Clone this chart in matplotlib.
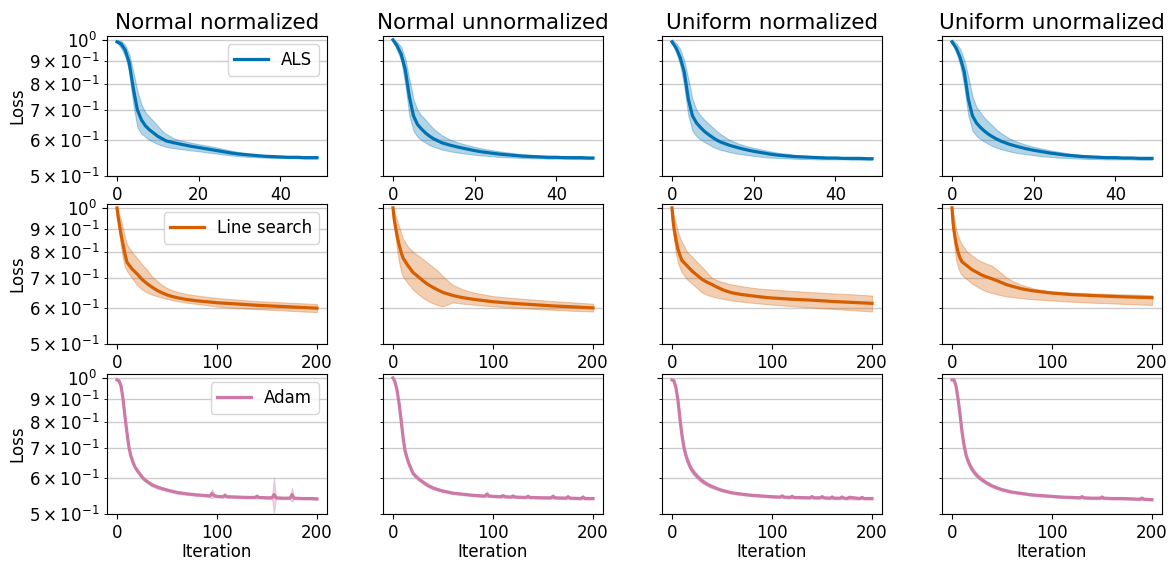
import matplotlib
matplotlib.use("Agg")
import matplotlib.pyplot as plt

TITLES = ["Normal normalized", "Normal unnormalized", "Uniform normalized", "Uniform unormalized"]
METHODS = ["ALS", "Line search", "Adam"]
COLORS = ["#0072B2", "#D55E00", "#CC79A7"]

# ---------------- ALS (iterations 0..49) ----------------
ALS_X = [0, 1, 2, 3, 4, 5, 6, 7, 8, 9, 10, 11, 12, 14, 16, 18, 20, 22, 24, 26, 28, 30,
         32, 34, 36, 38, 40, 42, 44, 46, 48, 49]

ALS_MEAN_1 = [0.99, 0.98, 0.95, 0.89, 0.78, 0.70, 0.665, 0.645, 0.632, 0.622, 0.612, 0.605, 0.598,
              0.592, 0.587, 0.582, 0.578, 0.574, 0.570, 0.566, 0.562, 0.559, 0.557, 0.555, 0.553,
              0.552, 0.551, 0.550, 0.550, 0.549, 0.549, 0.549]
ALS_HI_1 = [1.0, 0.995, 0.975, 0.93, 0.85, 0.77, 0.72, 0.69, 0.675, 0.66, 0.645, 0.63, 0.62,
            0.605, 0.598, 0.593, 0.588, 0.584, 0.579, 0.574, 0.569, 0.565, 0.561, 0.558, 0.556,
            0.555, 0.554, 0.553, 0.553, 0.552, 0.552, 0.552]
ALS_LO_1 = [0.985, 0.96, 0.92, 0.85, 0.72, 0.64, 0.62, 0.61, 0.60, 0.594, 0.588, 0.584, 0.58,
            0.576, 0.573, 0.57, 0.567, 0.564, 0.561, 0.558, 0.555, 0.553, 0.551, 0.550, 0.549,
            0.548, 0.548, 0.547, 0.547, 0.546, 0.546, 0.546]

ALS_MEAN_2 = [1.0, 0.97, 0.93, 0.86, 0.75, 0.68, 0.65, 0.635, 0.622, 0.612, 0.604, 0.598, 0.592,
              0.585, 0.579, 0.574, 0.569, 0.565, 0.562, 0.559, 0.557, 0.555, 0.553, 0.552, 0.551,
              0.550, 0.550, 0.549, 0.549, 0.549, 0.548, 0.548]
ALS_HI_2 = [1.0, 0.99, 0.965, 0.91, 0.82, 0.74, 0.70, 0.68, 0.665, 0.65, 0.635, 0.625, 0.615,
            0.602, 0.593, 0.586, 0.58, 0.575, 0.571, 0.567, 0.564, 0.561, 0.559, 0.557, 0.555,
            0.554, 0.553, 0.552, 0.552, 0.551, 0.551, 0.551]
ALS_LO_2 = [1.0, 0.95, 0.90, 0.80, 0.68, 0.63, 0.61, 0.60, 0.592, 0.585, 0.58, 0.576, 0.572,
            0.567, 0.563, 0.56, 0.557, 0.555, 0.553, 0.551, 0.55, 0.549, 0.548, 0.547, 0.547,
            0.546, 0.546, 0.546, 0.545, 0.545, 0.545, 0.545]

ALS_MEAN_3 = [0.99, 0.96, 0.915, 0.85, 0.74, 0.68, 0.655, 0.64, 0.627, 0.617, 0.608, 0.600, 0.594,
              0.585, 0.578, 0.572, 0.567, 0.563, 0.559, 0.556, 0.554, 0.552, 0.551, 0.550, 0.549,
              0.548, 0.548, 0.547, 0.547, 0.547, 0.546, 0.546]
ALS_HI_3 = [1.0, 0.985, 0.955, 0.90, 0.82, 0.74, 0.70, 0.68, 0.665, 0.652, 0.64, 0.628, 0.618,
            0.602, 0.591, 0.583, 0.577, 0.572, 0.567, 0.563, 0.56, 0.557, 0.555, 0.553, 0.552,
            0.551, 0.55, 0.55, 0.549, 0.549, 0.549, 0.549]
ALS_LO_3 = [0.985, 0.94, 0.88, 0.79, 0.68, 0.63, 0.612, 0.602, 0.594, 0.587, 0.58, 0.575, 0.571,
            0.565, 0.56, 0.557, 0.554, 0.551, 0.549, 0.548, 0.547, 0.546, 0.545, 0.545, 0.544,
            0.544, 0.544, 0.544, 0.543, 0.543, 0.543, 0.543]

ALS_MEAN_4 = [0.99, 0.96, 0.915, 0.85, 0.74, 0.68, 0.655, 0.64, 0.628, 0.618, 0.61, 0.603, 0.597,
              0.588, 0.581, 0.575, 0.570, 0.566, 0.562, 0.559, 0.556, 0.554, 0.552, 0.551, 0.550,
              0.549, 0.549, 0.548, 0.548, 0.547, 0.547, 0.547]
ALS_HI_4 = [1.0, 0.985, 0.955, 0.905, 0.83, 0.75, 0.71, 0.69, 0.672, 0.658, 0.645, 0.632, 0.622,
            0.606, 0.595, 0.587, 0.58, 0.575, 0.57, 0.566, 0.562, 0.559, 0.557, 0.555, 0.553,
            0.552, 0.551, 0.551, 0.55, 0.55, 0.55, 0.55]
ALS_LO_4 = [0.985, 0.94, 0.88, 0.79, 0.68, 0.63, 0.613, 0.603, 0.595, 0.588, 0.582, 0.577, 0.573,
            0.567, 0.562, 0.559, 0.556, 0.553, 0.551, 0.549, 0.548, 0.547, 0.546, 0.545, 0.545,
            0.544, 0.544, 0.544, 0.544, 0.543, 0.543, 0.543]

# ---------------- Line search (iterations 0..200) ----------------
LS_X = [0, 1, 2, 4, 6, 8, 10, 15, 20, 25, 30, 35, 40, 45, 50, 55, 60, 70, 80, 90, 100,
        120, 140, 160, 180, 200]

LS_MEAN_1 = [1.0, 0.96, 0.93, 0.875, 0.83, 0.79, 0.758, 0.733, 0.715, 0.695, 0.68, 0.668, 0.657,
             0.649, 0.642, 0.637, 0.633, 0.627, 0.623, 0.620, 0.617, 0.613, 0.609, 0.606, 0.603, 0.600]
LS_HI_1 = [1.0, 0.99, 0.97, 0.94, 0.90, 0.86, 0.83, 0.80, 0.775, 0.75, 0.73, 0.705, 0.69,
           0.675, 0.665, 0.658, 0.652, 0.645, 0.64, 0.636, 0.632, 0.627, 0.622, 0.619, 0.616, 0.613]
LS_LO_1 = [1.0, 0.93, 0.89, 0.82, 0.77, 0.74, 0.725, 0.70, 0.675, 0.66, 0.65, 0.643, 0.638,
           0.633, 0.629, 0.625, 0.622, 0.617, 0.613, 0.609, 0.605, 0.600, 0.597, 0.594, 0.591, 0.588]

LS_MEAN_2 = [1.0, 0.95, 0.92, 0.87, 0.83, 0.80, 0.775, 0.745, 0.72, 0.705, 0.69, 0.677, 0.667,
             0.658, 0.65, 0.645, 0.64, 0.633, 0.628, 0.624, 0.620, 0.615, 0.611, 0.607, 0.604, 0.601]
LS_HI_2 = [1.0, 0.99, 0.97, 0.94, 0.91, 0.88, 0.855, 0.82, 0.80, 0.785, 0.77, 0.755, 0.74,
           0.725, 0.705, 0.69, 0.675, 0.66, 0.65, 0.644, 0.638, 0.632, 0.627, 0.622, 0.618, 0.614]
LS_LO_2 = [1.0, 0.92, 0.88, 0.81, 0.76, 0.725, 0.705, 0.68, 0.66, 0.645, 0.632, 0.622, 0.615,
           0.609, 0.606, 0.612, 0.618, 0.614, 0.611, 0.608, 0.606, 0.602, 0.598, 0.595, 0.592, 0.59]

LS_MEAN_3 = [1.0, 0.94, 0.90, 0.85, 0.81, 0.785, 0.765, 0.745, 0.725, 0.71, 0.695, 0.685, 0.677,
             0.668, 0.66, 0.654, 0.649, 0.643, 0.639, 0.635, 0.632, 0.628, 0.625, 0.621, 0.618, 0.615]
LS_HI_3 = [1.0, 0.98, 0.96, 0.92, 0.885, 0.86, 0.84, 0.80, 0.78, 0.76, 0.74, 0.72, 0.70,
           0.692, 0.686, 0.681, 0.677, 0.671, 0.666, 0.662, 0.66, 0.655, 0.651, 0.647, 0.644, 0.64]
LS_LO_3 = [1.0, 0.90, 0.85, 0.79, 0.755, 0.735, 0.72, 0.695, 0.68, 0.665, 0.65, 0.642, 0.637,
           0.633, 0.63, 0.627, 0.624, 0.62, 0.617, 0.614, 0.611, 0.606, 0.602, 0.598, 0.594, 0.59]

LS_MEAN_4 = [1.0, 0.93, 0.89, 0.835, 0.80, 0.775, 0.76, 0.745, 0.73, 0.72, 0.71, 0.703, 0.697,
             0.69, 0.683, 0.676, 0.671, 0.662, 0.656, 0.652, 0.648, 0.643, 0.64, 0.637, 0.635, 0.633]
LS_HI_4 = [1.0, 0.98, 0.95, 0.90, 0.87, 0.845, 0.83, 0.80, 0.785, 0.77, 0.76, 0.752, 0.745,
           0.73, 0.715, 0.70, 0.69, 0.675, 0.665, 0.658, 0.654, 0.65, 0.647, 0.645, 0.643, 0.641]
LS_LO_4 = [1.0, 0.89, 0.84, 0.77, 0.74, 0.72, 0.71, 0.695, 0.68, 0.67, 0.66, 0.653, 0.648,
           0.644, 0.64, 0.637, 0.635, 0.631, 0.628, 0.626, 0.624, 0.62, 0.617, 0.615, 0.612, 0.61]

# ---------------- Adam (iterations 0..200, noisy) ----------------
ADAM_X_1 = [0, 2, 4, 6, 8, 10, 12, 14, 16, 18, 20, 23, 26, 30, 35, 40, 45, 50, 60, 70, 80, 90,
            93, 95, 97, 100, 106, 108, 110, 120, 130, 138, 140, 142, 150, 155, 157, 159, 165,
            173, 175, 177, 185, 195, 200]
ADAM_MEAN_1 = [0.99, 0.985, 0.96, 0.90, 0.82, 0.755, 0.70, 0.67, 0.65, 0.635, 0.625, 0.612, 0.60,
               0.59, 0.58, 0.574, 0.569, 0.565, 0.558, 0.554, 0.551, 0.549, 0.548, 0.555, 0.549,
               0.547, 0.546, 0.55, 0.546, 0.545, 0.544, 0.544, 0.547, 0.544, 0.543, 0.543, 0.552,
               0.543, 0.542, 0.542, 0.552, 0.542, 0.541, 0.541, 0.540]
ADAM_SD_1 = [0.003, 0.004, 0.006, 0.008, 0.01, 0.01, 0.008, 0.007, 0.007, 0.006, 0.006, 0.006,
             0.006, 0.005, 0.005, 0.005, 0.004, 0.004, 0.004, 0.003, 0.003, 0.003, 0.004, 0.013,
             0.004, 0.003, 0.003, 0.006, 0.003, 0.003, 0.003, 0.003, 0.006, 0.003, 0.003, 0.004,
             0.05, 0.004, 0.003, 0.003, 0.02, 0.003, 0.003, 0.003, 0.003]

ADAM_X_2 = [0, 2, 4, 6, 8, 10, 12, 14, 16, 18, 20, 23, 26, 30, 35, 40, 45, 50, 60, 70, 80, 90,
            92, 94, 96, 100, 108, 110, 112, 118, 120, 122, 133, 135, 137, 150, 158, 160, 162,
            173, 175, 177, 188, 190, 192, 200]
ADAM_MEAN_2 = [1.0, 0.98, 0.94, 0.88, 0.81, 0.74, 0.69, 0.665, 0.645, 0.63, 0.615, 0.605, 0.597,
               0.588, 0.578, 0.571, 0.566, 0.562, 0.556, 0.553, 0.55, 0.548, 0.548, 0.553, 0.548,
               0.547, 0.546, 0.549, 0.546, 0.545, 0.548, 0.545, 0.544, 0.547, 0.544, 0.543, 0.543,
               0.547, 0.543, 0.542, 0.546, 0.542, 0.541, 0.545, 0.541, 0.541]
ADAM_SD_2 = [0.003, 0.004, 0.007, 0.01, 0.012, 0.012, 0.01, 0.009, 0.008, 0.007, 0.006, 0.006,
             0.005, 0.005, 0.005, 0.004, 0.004, 0.004, 0.003, 0.003, 0.003, 0.003, 0.003, 0.008,
             0.003, 0.003, 0.003, 0.005, 0.003, 0.003, 0.005, 0.003, 0.003, 0.005, 0.003, 0.003,
             0.003, 0.006, 0.003, 0.003, 0.005, 0.003, 0.003, 0.005, 0.003, 0.003]

ADAM_X_3 = [0, 2, 4, 6, 8, 10, 12, 14, 16, 18, 20, 23, 26, 30, 35, 40, 45, 50, 60, 70, 80, 90,
            100, 108, 110, 112, 118, 120, 122, 138, 140, 142, 148, 150, 152, 158, 160, 162,
            168, 170, 172, 175, 177, 188, 190, 192, 200]
ADAM_MEAN_3 = [0.99, 0.985, 0.95, 0.89, 0.81, 0.745, 0.70, 0.672, 0.652, 0.637, 0.625, 0.613,
               0.603, 0.592, 0.582, 0.575, 0.569, 0.564, 0.557, 0.553, 0.55, 0.548, 0.546, 0.545,
               0.548, 0.545, 0.544, 0.547, 0.544, 0.543, 0.546, 0.543, 0.543, 0.546, 0.543, 0.542,
               0.545, 0.542, 0.542, 0.545, 0.542, 0.541, 0.544, 0.541, 0.544, 0.541, 0.541]
ADAM_SD_3 = [0.003, 0.004, 0.008, 0.012, 0.015, 0.015, 0.014, 0.013, 0.012, 0.011, 0.01, 0.009,
             0.008, 0.007, 0.006, 0.005, 0.004, 0.004, 0.003, 0.003, 0.003, 0.003, 0.003, 0.003,
             0.005, 0.003, 0.003, 0.005, 0.003, 0.003, 0.005, 0.003, 0.003, 0.005, 0.003, 0.003,
             0.005, 0.003, 0.003, 0.005, 0.003, 0.003, 0.006, 0.003, 0.005, 0.003, 0.003]

ADAM_X_4 = [0, 2, 4, 6, 8, 10, 12, 14, 16, 18, 20, 23, 26, 30, 35, 40, 45, 50, 60, 70, 80, 90,
            100, 110, 120, 128, 130, 132, 140, 148, 150, 152, 160, 170, 180, 188, 190, 192, 200]
ADAM_MEAN_4 = [0.99, 0.99, 0.96, 0.90, 0.83, 0.76, 0.71, 0.675, 0.655, 0.64, 0.628, 0.615,
               0.605, 0.595, 0.585, 0.577, 0.571, 0.566, 0.559, 0.555, 0.551, 0.549, 0.547, 0.545,
               0.544, 0.543, 0.546, 0.543, 0.542, 0.542, 0.545, 0.542, 0.541, 0.541, 0.540, 0.539,
               0.542, 0.539, 0.538]
ADAM_SD_4 = [0.003, 0.004, 0.008, 0.012, 0.014, 0.014, 0.013, 0.012, 0.011, 0.01, 0.009, 0.008,
             0.007, 0.006, 0.005, 0.005, 0.004, 0.004, 0.003, 0.003, 0.003, 0.003, 0.003, 0.003,
             0.003, 0.003, 0.005, 0.003, 0.003, 0.003, 0.005, 0.003, 0.003, 0.003, 0.003, 0.003,
             0.005, 0.003, 0.003]

ALS_DATA = [(ALS_X, ALS_MEAN_1, ALS_LO_1, ALS_HI_1), (ALS_X, ALS_MEAN_2, ALS_LO_2, ALS_HI_2),
            (ALS_X, ALS_MEAN_3, ALS_LO_3, ALS_HI_3), (ALS_X, ALS_MEAN_4, ALS_LO_4, ALS_HI_4)]
LS_DATA = [(LS_X, LS_MEAN_1, LS_LO_1, LS_HI_1), (LS_X, LS_MEAN_2, LS_LO_2, LS_HI_2),
           (LS_X, LS_MEAN_3, LS_LO_3, LS_HI_3), (LS_X, LS_MEAN_4, LS_LO_4, LS_HI_4)]
ADAM_DATA = []
for xs, m, s in [(ADAM_X_1, ADAM_MEAN_1, ADAM_SD_1), (ADAM_X_2, ADAM_MEAN_2, ADAM_SD_2),
                 (ADAM_X_3, ADAM_MEAN_3, ADAM_SD_3), (ADAM_X_4, ADAM_MEAN_4, ADAM_SD_4)]:
    ADAM_DATA.append((xs, m, [a - b for a, b in zip(m, s)], [a + b for a, b in zip(m, s)]))

ROWS = [ALS_DATA, LS_DATA, ADAM_DATA]
XTICKS = [[0, 20, 40], [0, 100, 200], [0, 100, 200]]

plt.rcParams["font.size"] = 12

W, H = 1174, 562
fig = plt.figure(figsize=(W / 100, H / 100), dpi=100)
lefts = [107, 383, 662, 942]
tops = [36, 204, 374]
aw, ah = 220, 140

for r in range(3):
    for c in range(4):
        ax = fig.add_axes([lefts[c] / W, 1 - (tops[r] + ah) / H, aw / W, ah / H])
        xs, m, lo, hi = ROWS[r][c]
        ax.fill_between(xs, lo, hi, color=COLORS[r], alpha=0.3, linewidth=0.8)
        ax.plot(xs, m, color=COLORS[r], lw=2.3, label=METHODS[r])
        ax.set_yscale("log")
        ax.set_ylim(0.5, 1.02)
        ax.set_xticks(XTICKS[r])
        ax.yaxis.grid(True, which="both", color="#cccccc", lw=1.0)
        ax.set_axisbelow(True)
        if c != 0:
            ax.set_yticklabels([], minor=True)
            ax.set_yticklabels([])
        else:
            ax.set_ylabel("Loss", labelpad=2)
            ax.legend(loc="upper right")
        if r == 0:
            ax.set_title(TITLES[c], fontsize=15.5, pad=5)
        if r == 2:
            ax.set_xlabel("Iteration", labelpad=1)

fig.savefig("out.png", dpi=100)
